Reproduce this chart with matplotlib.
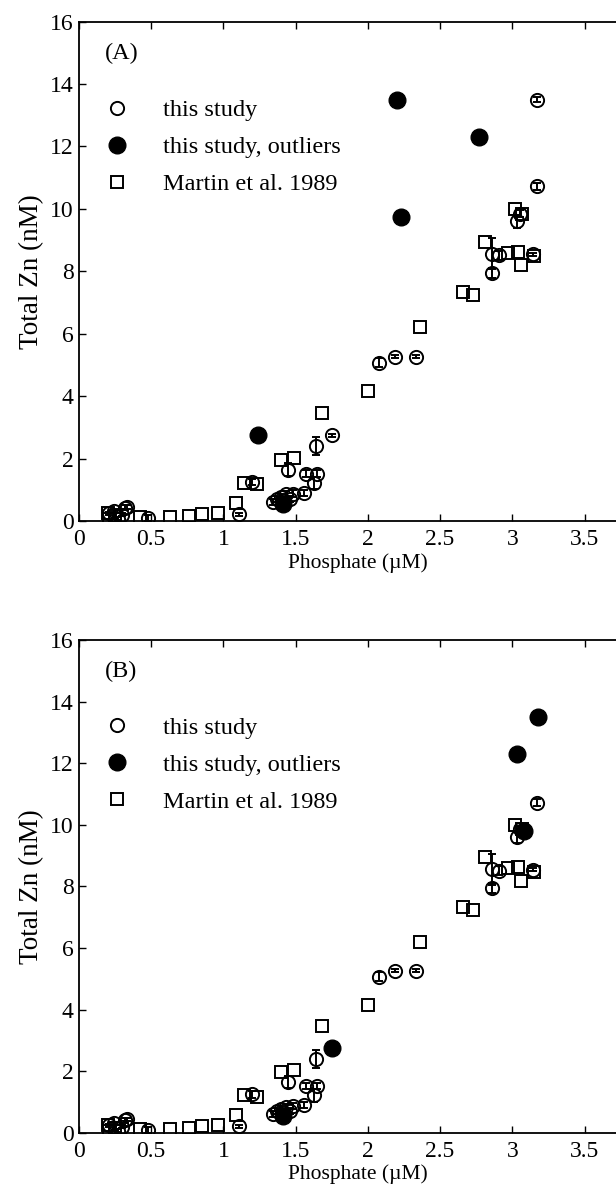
import matplotlib
matplotlib.use("Agg")
import matplotlib.pyplot as plt
from matplotlib.lines import Line2D
from matplotlib.ticker import FormatStrFormatter

plt.rcParams['font.family'] = ['Liberation Serif', 'DejaVu Serif']

# "this study" (hollow circles) with error bars
study_x = [0.21, 0.24, 0.27, 0.30, 0.32, 0.33, 0.48, 1.11, 1.20,
           1.34, 1.37, 1.40, 1.43, 1.46, 1.48, 1.56, 1.45, 1.57, 1.65,
           1.63, 1.64, 1.75, 2.08, 2.19, 2.33, 2.86, 2.91, 2.86, 3.03,
           3.05, 3.14, 3.17, 3.17]
study_y = [0.25, 0.32, 0.08, 0.20, 0.42, 0.45, 0.10, 0.22, 1.25,
           0.62, 0.70, 0.78, 0.85, 0.70, 0.88, 0.90, 1.65, 1.52, 1.52,
           1.22, 2.40, 2.75, 5.07, 5.26, 5.26, 8.56, 8.51, 7.95, 9.60,
           9.85, 8.54, 10.72, 13.50]
study_err = [0.05, 0.05, 0.05, 0.05, 0.08, 0.05, 0.10, 0.05, 0.10,
             0.10, 0.10, 0.10, 0.10, 0.10, 0.10, 0.10, 0.20, 0.10, 0.10,
             0.20, 0.30, 0.05, 0.15, 0.05, 0.05, 0.50, 0.15, 0.15, 0.20,
             0.10, 0.05, 0.12, 0.08]

# outliers, panel A and panel B
outA_x = [2.20, 2.77, 2.23, 1.24, 1.41]
outA_y = [13.50, 12.30, 9.75, 2.75, 0.55]
outB_x = [3.18, 3.03, 3.08, 1.75, 1.41]
outB_y = [13.50, 12.30, 9.80, 2.75, 0.55]

# Martin et al. 1989 (squares)
martin_x = [0.20, 0.21, 0.25, 0.42, 0.63, 0.76, 0.85, 0.96, 1.09, 1.14,
            1.23, 1.40, 1.49, 1.68, 2.00, 2.36, 2.66, 2.73, 2.81, 2.97,
            3.04, 3.06, 3.15, 3.02, 3.07]
martin_y = [0.25, 0.05, 0.15, 0.12, 0.12, 0.16, 0.22, 0.25, 0.57, 1.22,
            1.18, 1.97, 2.03, 3.47, 4.15, 6.20, 7.34, 7.23, 8.94, 8.60,
            8.62, 8.19, 8.48, 10.00, 9.85]

labels = ["this study", "this study, outliers", "Martin et al. 1989"]
panel_tags = ["(A)", "(B)"]
x_ticks = [0, 0.5, 1, 1.5, 2, 2.5, 3, 3.5]
y_ticks = [0, 2, 4, 6, 8, 10, 12, 14, 16]

FS_TICK = 17
FS_XL = 15.5
FS_YL = 19.5
FS_LEG = 17.5

fig = plt.figure(figsize=(6.16, 11.95), dpi=100)
axA = fig.add_axes([0.1282, 0.564, 0.938, 0.418])
axB = fig.add_axes([0.1282, 0.0519, 0.938, 0.4126])

for ax, ox, oy, tag in [(axA, outA_x, outA_y, panel_tags[0]),
                        (axB, outB_x, outB_y, panel_tags[1])]:
    ax.plot(martin_x, martin_y, 's', ms=9, mfc='none', mec='black', mew=1.4,
            zorder=2)
    ax.errorbar(study_x, study_y, yerr=study_err, fmt='o', ms=9.5,
                mfc='none', mec='black', mew=1.4, ecolor='black',
                elinewidth=1.4, capsize=3, capthick=1.4, zorder=3)
    ax.plot(ox, oy, 'o', ms=12, color='black', zorder=4)
    ax.set_xlim(0, 4)
    ax.set_ylim(0, 16)
    ax.set_xticks(x_ticks)
    ax.set_yticks(y_ticks)
    ax.xaxis.set_major_formatter(FormatStrFormatter('%g'))
    ax.tick_params(direction='in', top=True, right=True, length=5,
                   width=1, labelsize=FS_TICK, pad=4)
    ax.tick_params(axis='x', pad=6)
    for s in ax.spines.values():
        s.set_linewidth(1.3)
    ax.set_xlabel("Phosphate (\u00b5M)", fontsize=FS_XL, labelpad=0)
    ax.xaxis.set_label_coords(0.483, -0.064)
    ax.set_ylabel("Total Zn (nM)", fontsize=FS_YL, labelpad=4)
    ax.text(0.18, 14.98, tag, fontsize=FS_LEG, ha='left', va='center')
    handles = [
        Line2D([], [], ls='none', marker='o', ms=9.5, mfc='none', mec='black', mew=1.4),
        Line2D([], [], ls='none', marker='o', ms=12, color='black'),
        Line2D([], [], ls='none', marker='s', ms=8, mfc='none', mec='black', mew=1.4),
    ]
    ax.legend(handles, labels, loc='upper left', bbox_to_anchor=(0.0, 0.864),
              frameon=False, fontsize=FS_LEG, handletextpad=0.73,
              labelspacing=0.62, borderaxespad=0.0, handlelength=2.33)

fig.savefig("out.png", dpi=100)
